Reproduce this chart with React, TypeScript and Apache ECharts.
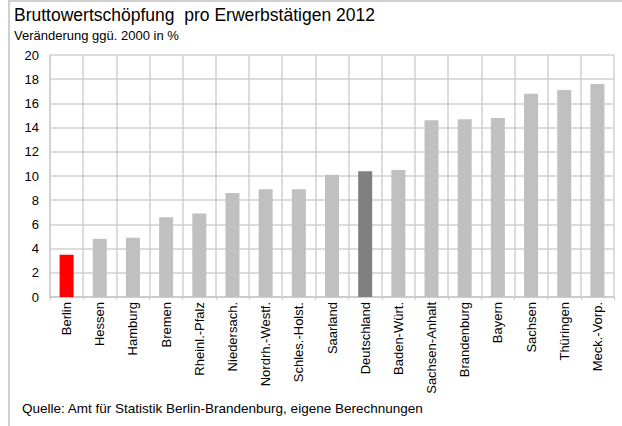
import React, { useEffect, useRef } from "react";
import * as echarts from "echarts";

const categories = [
  "Berlin", "Hessen", "Hamburg", "Bremen", "Rheinl.-Pfalz", "Niedersach.",
  "Nordrh.-Westf.", "Schles.-Holst.", "Saarland", "Deutschland", "Baden-Würt.",
  "Sachsen-Anhalt", "Brandenburg", "Bayern", "Sachsen", "Thüringen", "Meck.-Vorp.",
];
const values = [3.5, 4.8, 4.9, 6.6, 6.9, 8.6, 8.9, 8.9, 10.1, 10.4, 10.5, 14.6, 14.7, 14.8, 16.8, 17.1, 17.6];
const highlight: Record<string, string> = { Berlin: "#ff0000", Deutschland: "#808080" };
const defaultColor = "#c0c0c0";

const titleText = "Bruttowertschöpfung  pro Erwerbstätigen 2012";
const subtitleText = "Veränderung ggü. 2000 in %";
const sourceText = "Quelle: Amt für Statistik Berlin-Brandenburg, eigene Berechnungen";

export default function App() {
  const ref = useRef<HTMLDivElement>(null);
  useEffect(() => {
    if (!ref.current) return;
    const chart = echarts.init(ref.current, null, { renderer: "svg" });
    const font = "'Liberation Sans', Arial, sans-serif";
    chart.setOption({
      animation: false,
      backgroundColor: "#ffffff",
      textStyle: { fontFamily: font },
      grid: { left: 50, right: 8, top: 55, bottom: 129, containLabel: false },
      graphic: [
        {
          type: "rect",
          shape: { x: 9, y: 1, width: 700, height: 600 },
          style: { fill: "none", stroke: "#d0d0d0", lineWidth: 2 },
          silent: true,
        },
        {
          type: "text",
          left: 14,
          top: 6,
          style: { text: titleText, font: `17.5px ${font}`, fill: "#000" },
        },
        {
          type: "text",
          left: 14,
          top: 29,
          style: { text: subtitleText, font: `13px ${font}`, fill: "#000" },
        },
        {
          type: "text",
          left: 22,
          top: 401,
          style: { text: sourceText, font: `13.5px ${font}`, fill: "#000" },
        },
      ],
      xAxis: {
        type: "category",
        data: categories,
        boundaryGap: true,
        axisLine: { show: true, lineStyle: { color: "#c8c8c8", width: 1.5 } },
        axisTick: { show: true, length: 3, lineStyle: { color: "#c8c8c8" } },
        splitLine: { show: true, lineStyle: { color: "#d0d0d0", width: 1.5 } },
        axisLabel: { rotate: 90, fontSize: 13, color: "#000", margin: 5, interval: 0, fontFamily: font },
      },
      yAxis: {
        type: "value",
        min: 0,
        max: 20,
        interval: 2,
        axisLine: { show: true, lineStyle: { color: "#d0d0d0", width: 1.5 } },
        axisTick: { show: false },
        splitLine: { show: true, lineStyle: { color: "#d0d0d0", width: 1.5 } },
        axisLabel: { fontSize: 13, color: "#000", margin: 11, fontFamily: font },
      },
      series: [
        {
          type: "bar",
          barWidth: 14,
          data: values.map((v, i) => ({
            value: v,
            itemStyle: { color: highlight[categories[i]] || defaultColor },
          })),
        },
      ],
    });
    return () => chart.dispose();
  }, []);
  return (
    <div
      ref={ref}
      style={{ position: "absolute", left: 0, top: 0, width: 622, height: 426 }}
    />
  );
}
